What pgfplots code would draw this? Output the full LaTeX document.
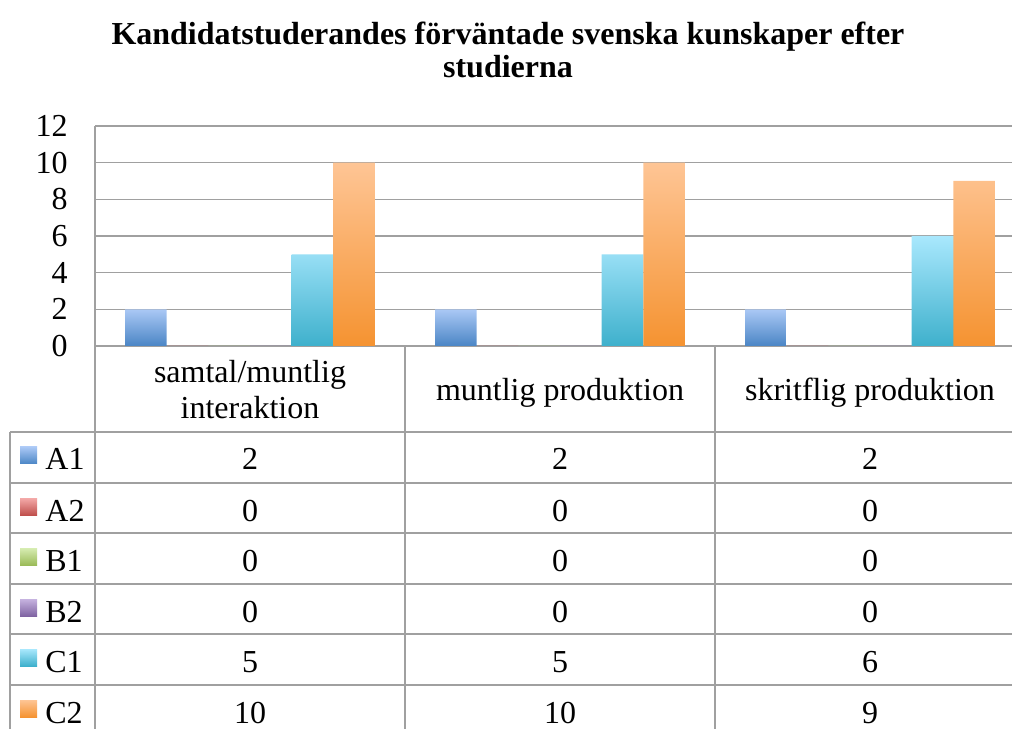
\documentclass[border=0pt]{standalone}
\usepackage{fontspec}
\setmainfont{Liberation Serif}
\usepackage{pgfplots}
\pgfplotsset{compat=1.18}

% Office 2007 palette, light top / dark bottom of each gradient
\definecolor{gridgray}{HTML}{A0A0A0}
\definecolor{aonet}{HTML}{AAC8F5}\definecolor{aoneb}{HTML}{4A85C5}
\definecolor{atwot}{HTML}{F4AAA9}\definecolor{atwob}{HTML}{C0504D}
\definecolor{bonet}{HTML}{D7EDB2}\definecolor{boneb}{HTML}{9BBB59}
\definecolor{btwot}{HTML}{C6B3E0}\definecolor{btwob}{HTML}{8064A2}
\definecolor{conet}{HTML}{A9E8FD}\definecolor{coneb}{HTML}{3EB0CC}
\definecolor{ctwot}{HTML}{FEC595}\definecolor{ctwob}{HTML}{F59331}

\begin{document}
\fontsize{16}{18}\selectfont
\begin{tikzpicture}
\useasboundingbox (0,0) rectangle (506pt,364.5pt);
\clip (0,0) rectangle (506pt,364.5pt);

% plot area: pixel x 95..1025, y 126..346 (1 px = 0.5pt)
\begin{axis}[
    at={(47.5pt,191.5pt)}, anchor=south west,
    scale only axis, width=465pt, height=110pt,
    xmin=-0.5, xmax=2.5, ymin=0, ymax=12,
    xtick=\empty, ytick={0,2,...,12},
    axis x line*=bottom, axis y line*=left,
    axis line style={gridgray, line width=0.75pt, -},
    ymajorgrids, grid style={gridgray, line width=0.75pt},
    major tick length=0pt,
    /pgf/number format/assume math mode=true,
    y tick label style={inner sep=0pt, xshift=-13.5pt},
    clip=false,
  ]
  \addplot[ybar, bar width=0.1344, bar shift=-0.336, draw=none, top color=aonet, bottom color=aoneb]
    coordinates {(0,2) (1,2) (2,2)};
  \addplot[ybar, bar width=0.1344, bar shift=-0.2016, draw=none, fill=atwob]
    coordinates {(0,0) (1,0) (2,0)};
  \addplot[ybar, bar width=0.1344, bar shift=-0.0672, draw=none, fill=boneb]
    coordinates {(0,0) (1,0) (2,0)};
  \addplot[ybar, bar width=0.1344, bar shift=0.0672, draw=none, fill=btwob]
    coordinates {(0,0) (1,0) (2,0)};
  \addplot[ybar, bar width=0.1344, bar shift=0.2016, draw=none, top color=conet, bottom color=coneb]
    coordinates {(0,5) (1,5) (2,6)};
  \addplot[ybar, bar width=0.1344, bar shift=0.336, draw=none, top color=ctwot, bottom color=ctwob]
    coordinates {(0,10) (1,10) (2,9)};
\end{axis}

% everything else in reference pixels, y pointing down
\begin{scope}[x=0.5pt, y=-0.5pt, yshift=364.5pt]
\node[font=\bfseries, anchor=base] at (508,45) {Kandidatstuderandes förväntade svenska kunskaper efter};
\node[font=\bfseries, anchor=base] at (508,78) {studierna};

\begin{scope}[gridgray, line width=0.75pt]
  \draw (95,346) -- (95,729);
  \draw (405,346) -- (405,729);
  \draw (715,346) -- (715,729);
  \draw (10,432) -- (10,729);
  \foreach \yy in {432,483,533,584,634,685}
    \draw (10,\yy) -- (1012,\yy);
\end{scope}

\node[anchor=base] at (250,383) {samtal/muntlig};
\node[anchor=base] at (250,419) {interaktion};
\node[anchor=base] at (560,401) {muntlig produktion};
\node[anchor=base] at (870,401) {skritflig produktion};

\foreach \rt/\lab/\ct/\cb/\va/\vb/\vc in {
    432/A1/aonet/aoneb/2/2/2,
    483/A2/atwot/atwob/0/0/0,
    533/B1/bonet/boneb/0/0/0,
    584/B2/btwot/btwob/0/0/0,
    634/C1/conet/coneb/5/5/6,
    685/C2/ctwot/ctwob/10/10/9} {
  \shade[top color=\ct, bottom color=\cb] (20,\rt+15) rectangle (37,\rt+32);
  \node[anchor=base west, inner sep=0pt] at (45,\rt+38) {\lab};
  \node[anchor=base] at (250,\rt+38) {\va};
  \node[anchor=base] at (560,\rt+38) {\vb};
  \node[anchor=base] at (870,\rt+38) {\vc};
}
\end{scope}
\end{tikzpicture}
\end{document}
